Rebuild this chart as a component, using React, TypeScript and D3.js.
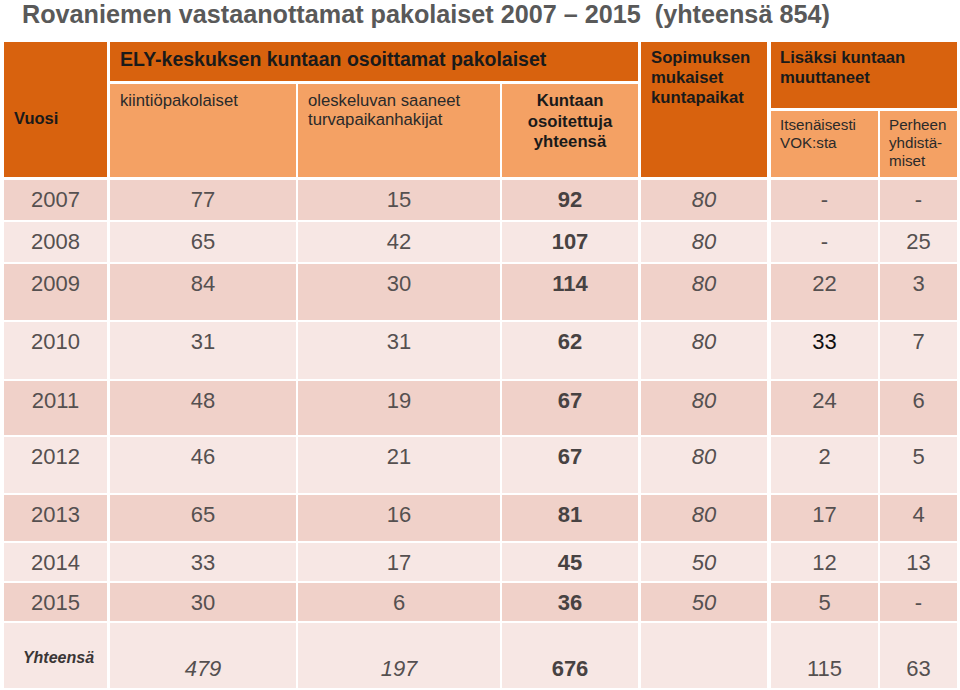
import React from "react";
import * as d3 from "d3";

const title = "Rovaniemen vastaanottamat pakolaiset 2007 – 2015\u00a0\u00a0(yhteensä 854)";
const years = ["2007", "2008", "2009", "2010", "2011", "2012", "2013", "2014", "2015"];
const kiintio = [77, 65, 84, 31, 48, 46, 65, 33, 30];
const oleskelu = [15, 42, 30, 31, 19, 21, 16, 17, 6];
const kuntaan = [92, 107, 114, 62, 67, 67, 81, 45, 36];
const sopimus = [80, 80, 80, 80, 80, 80, 80, 50, 50];
const itsenaisesti: (number | null)[] = [null, null, 22, 33, 24, 2, 17, 12, 5];
const perhe: (number | null)[] = [null, 25, 3, 7, 6, 5, 4, 13, null];
const totalsLabel = "Yhteensä";
const totals = ["479", "197", "676", "", "115", "63"];

// layout
const colX = [4, 110, 298, 502, 641, 771, 880];
const colW = [103, 186, 202, 136, 126, 107, 77];
const rowEdges = [180, 222, 264, 322, 381, 437, 495, 543, 583, 623, 690];

const DARK = "#D8620E";
const LIGHT = "#F4A164";
const ROW_A = "#F0D1C9";
const ROW_B = "#F7E7E4";
const TXT = "#555050";
const FONT = "'Liberation Sans', Arial, sans-serif";

export default function App() {
  const cols = [years, kiintio, oleskelu, kuntaan, sopimus, itsenaisesti, perhe];
  const rowIdx = d3.range(years.length);
  const fmt = (v: any) => (v === null || v === undefined ? "-" : String(v));

  const headerRects = [
    { x: 4, y: 42, w: 103, h: 135, c: DARK },
    { x: 110, y: 42, w: 528, h: 39, c: DARK },
    { x: 110, y: 84, w: 186, h: 93, c: LIGHT },
    { x: 298, y: 84, w: 202, h: 93, c: LIGHT },
    { x: 502, y: 84, w: 136, h: 93, c: LIGHT },
    { x: 641, y: 42, w: 126, h: 135, c: DARK },
    { x: 771, y: 42, w: 186, h: 66, c: DARK },
    { x: 771, y: 111, w: 107, h: 66, c: LIGHT },
    { x: 880, y: 111, w: 77, h: 66, c: LIGHT },
  ];

  const headerTexts: { x: number; y: number; lines: string[]; bold?: boolean; size: number; anchor?: string; lh: number; fill: string }[] = [
    { x: 14, y: 124, lines: ["Vuosi"], bold: true, size: 16.5, lh: 20, fill: "#1a1a1a" },
    { x: 120, y: 66, lines: ["ELY-keskuksen kuntaan osoittamat pakolaiset"], bold: true, size: 19.5, lh: 20, fill: "#1a1a1a" },
    { x: 120, y: 106, lines: ["kiintiöpakolaiset"], size: 16.7, lh: 19, fill: "#2a2a2a" },
    { x: 308, y: 106, lines: ["oleskeluvan saaneet", "turvapaikanhakijat"], size: 16.7, lh: 19, fill: "#2a2a2a" },
    { x: 570, y: 106, lines: ["Kuntaan", "osoitettuja", "yhteensä"], bold: true, size: 16.7, lh: 20.5, anchor: "middle", fill: "#1a1a1a" },
    { x: 651, y: 63, lines: ["Sopimuksen", "mukaiset", "kuntapaikat"], bold: true, size: 16.7, lh: 20, fill: "#1a1a1a" },
    { x: 780, y: 63, lines: ["Lisäksi kuntaan", "muuttaneet"], bold: true, size: 16.7, lh: 20, fill: "#1a1a1a" },
    { x: 780, y: 130, lines: ["Itsenäisesti", "VOK:sta"], size: 15.2, lh: 18, fill: "#2a2a2a" },
    { x: 889, y: 130, lines: ["Perheen", "yhdistä-", "miset"], size: 15.2, lh: 18, fill: "#2a2a2a" },
  ];

  const nRows = years.length + 1;
  return (
    <svg width={960} height={690} style={{ position: "absolute", left: 0, top: 0, background: "#fff" }} fontFamily={FONT}>
      <rect width={960} height={690} fill="#fff" />
      <text x={22} y={22.5} fontSize={25.2} fontWeight="bold" fill="#595959">{title}</text>

      {headerRects.map((r, i) => (
        <rect key={"h" + i} x={r.x} y={r.y} width={r.w} height={r.h} fill={r.c} />
      ))}
      {headerTexts.map((t, i) => (
        <text key={"ht" + i} x={t.x} y={t.y} fontSize={t.size} fontWeight={t.bold ? "bold" : "normal"} textAnchor={t.anchor || "start"} fill={t.fill}>
          {t.lines.map((l, j) => (
            <tspan key={j} x={t.x} y={t.y + j * t.lh}>{l}</tspan>
          ))}
        </text>
      ))}

      {d3.range(nRows).map((ri) => {
        const top = rowEdges[ri];
        const h = rowEdges[ri + 1] - top - 2;
        const fill = ri % 2 === 0 ? ROW_A : ROW_B;
        return colX.map((x, ci) => (
          <rect key={`c${ri}-${ci}`} x={x} y={top} width={colW[ci]} height={h} fill={fill} />
        ));
      })}

      {rowIdx.map((ri) => {
        const y = rowEdges[ri] + 27;
        return cols.map((col, ci) => {
          const v = fmt((col as any[])[ri]);
          const isBlack = ci === 5 && years[ri] === "2010";
          return (
            <text
              key={`t${ri}-${ci}`}
              x={colX[ci] + colW[ci] / 2}
              y={y}
              textAnchor="middle"
              fontSize={22}
              fontWeight={ci === 3 ? "bold" : "normal"}
              fontStyle={ci === 4 ? "italic" : "normal"}
              fill={isBlack ? "#111" : ci === 3 ? "#474242" : TXT}
            >
              {v}
            </text>
          );
        });
      })}

      <text x={colX[0] + colW[0] / 2 + 3} y={663} textAnchor="middle" fontSize={16} fontWeight="bold" fontStyle="italic" fill="#3a3636">{totalsLabel}</text>
      {totals.map((v, i) => (
        <text
          key={"tot" + i}
          x={colX[i + 1] + colW[i + 1] / 2}
          y={676}
          textAnchor="middle"
          fontSize={22}
          fontWeight={i === 2 ? "bold" : "normal"}
          fontStyle={i < 2 ? "italic" : "normal"}
          fill={i === 2 ? "#474242" : TXT}
        >
          {v}
        </text>
      ))}
    </svg>
  );
}
